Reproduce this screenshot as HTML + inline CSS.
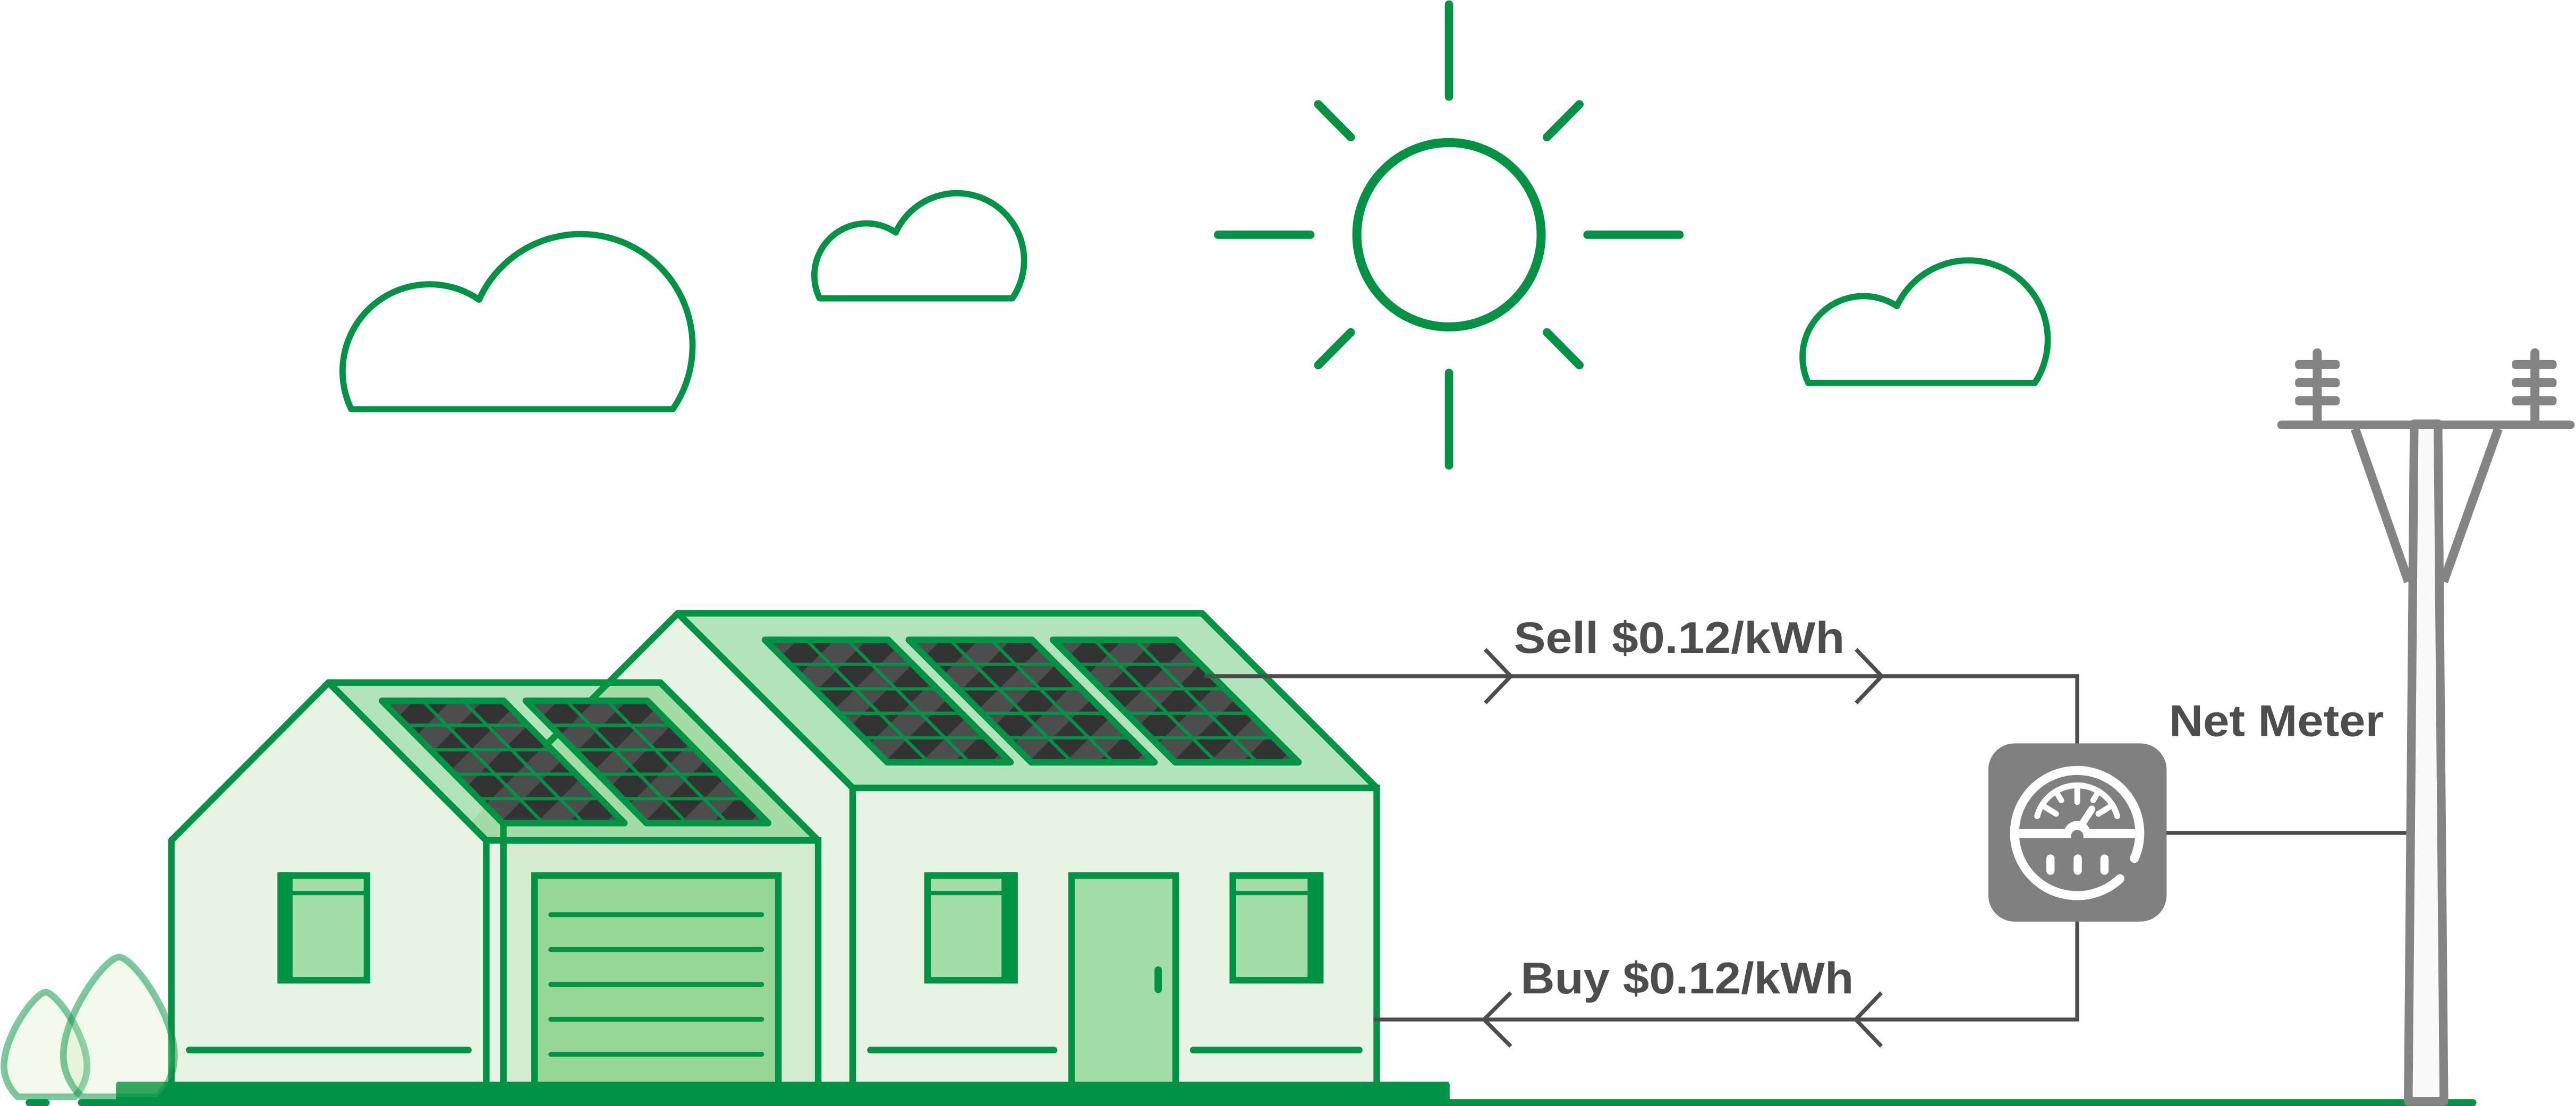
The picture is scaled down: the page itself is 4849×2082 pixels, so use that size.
<!DOCTYPE html>
<html>
<head>
<meta charset="utf-8">
<style>
html,body{margin:0;padding:0;background:#fff;width:4849px;height:2082px;overflow:hidden}
svg{display:block}
</style>
</head>
<body>
<svg width="4849" height="2082" viewBox="0 0 1568 673.25" xmlns="http://www.w3.org/2000/svg">
<defs>
  <pattern id="pp" patternUnits="userSpaceOnUse" width="30" height="30" patternTransform="rotate(45)">
    <rect width="30" height="30" fill="#333333"/>
    <rect width="14" height="30" fill="#4d4d4d"/>
  </pattern>
  <g id="pnl">
    <polygon points="0,0 75,0 149.5,74.5 74.5,74.5" fill="url(#pp)"/>
    <g stroke="#009245" stroke-width="2">
      <line x1="14.9" y1="14.9" x2="89.9" y2="14.9"/>
      <line x1="29.8" y1="29.8" x2="104.8" y2="29.8"/>
      <line x1="44.7" y1="44.7" x2="119.7" y2="44.7"/>
      <line x1="59.6" y1="59.6" x2="134.6" y2="59.6"/>
      <line x1="25" y1="0" x2="99.5" y2="74.5"/>
      <line x1="50" y1="0" x2="124.5" y2="74.5"/>
    </g>
    <polygon points="0,0 75,0 149.5,74.5 74.5,74.5" fill="none" stroke="#009245" stroke-width="4" stroke-linejoin="round"/>
  </g>
</defs>

<rect x="0" y="0" width="1568" height="673.25" fill="#ffffff"/>

<!-- Sun -->
<g stroke="#009245" stroke-width="5.1" stroke-linecap="round" fill="none">
  <circle cx="882" cy="142.9" r="56.1" stroke-width="5.5"/>
  <line x1="882" y1="2.8" x2="882" y2="58.8"/>
  <line x1="882" y1="227" x2="882" y2="283.3"/>
  <line x1="741.5" y1="142.9" x2="797.6" y2="142.9"/>
  <line x1="966.3" y1="142.9" x2="1022.3" y2="142.9"/>
  <line x1="802.4" y1="63.5" x2="822.2" y2="83.5"/>
  <line x1="961.4" y1="63.5" x2="941.6" y2="83.5"/>
  <line x1="822.2" y1="202.3" x2="802.4" y2="222.3"/>
  <line x1="941.6" y1="202.3" x2="961.4" y2="222.3"/>
</g>

<!-- Clouds -->
<g fill="none" stroke="#009245" stroke-width="3.8" stroke-linejoin="round">
  <path d="M213.8,249.1 A53,53 0 0 1 291.6,182.4 A68,68 0 1 1 409.5,249.1 Z"/>
  <path d="M498.9,181.6 A31.7,31.7 0 0 1 545.25,141.5 A40.9,40.9 0 1 1 616.2,181.6 Z"/>
  <path d="M1100.7,233.1 A37.1,37.1 0 0 1 1154.6,186.3 A48.2,48.2 0 1 1 1238.6,233.1 Z"/>
</g>

<!-- Big house gable (behind) -->
<polygon points="412.6,373.3 519,479.6 519,662 126,662" fill="#e7f4e3"/>
<line x1="412.6" y1="373.3" x2="326" y2="460" stroke="#009245" stroke-width="4" stroke-linecap="round"/>
<!-- Big house roof -->
<polygon points="412.6,373.3 731.6,373.3 838,479.6 519,479.6" fill="#b3e3ba" stroke="#009245" stroke-width="4" stroke-linejoin="round"/>
<!-- Big house front wall -->
<rect x="519" y="479.6" width="319" height="182" fill="#e7f4e3" stroke="#009245" stroke-width="4"/>

<!-- Big house panels -->
<use href="#pnl" transform="translate(465.6,389.5)"/>
<use href="#pnl" transform="translate(553.2,389.5)"/>
<use href="#pnl" transform="translate(640.9,389.5)"/>

<!-- Big house windows & door -->
<rect x="564.6" y="533" width="52.9" height="63.7" fill="#a2dca7" stroke="#009245" stroke-width="4"/>
<rect x="609.6" y="531" width="9.9" height="67.7" fill="#009245" rx="1"/>
<line x1="564.6" y1="543.6" x2="612" y2="543.6" stroke="#009245" stroke-width="2.6"/>

<rect x="750.4" y="533" width="53.2" height="63.7" fill="#a2dca7" stroke="#009245" stroke-width="4"/>
<rect x="795.9" y="531" width="9.7" height="67.7" fill="#009245" rx="1"/>
<line x1="750.4" y1="543.6" x2="798" y2="543.6" stroke="#009245" stroke-width="2.6"/>

<rect x="652.3" y="533" width="63.3" height="129" fill="#a2dca7" stroke="#009245" stroke-width="4"/>
<line x1="705" y1="590.5" x2="705" y2="602.3" stroke="#009245" stroke-width="4.5" stroke-linecap="round"/>

<g stroke="#009245" stroke-width="4" stroke-linecap="round">
  <line x1="529.8" y1="639.2" x2="641.6" y2="639.2"/>
  <line x1="726.3" y1="639.2" x2="827.4" y2="639.2"/>
</g>

<!-- Garage -->
<rect x="306.4" y="511.6" width="191.6" height="150" fill="#d3ecd0" stroke="#009245" stroke-width="4"/>
<line x1="306.4" y1="501" x2="306.4" y2="662" stroke="#009245" stroke-width="4"/>
<rect x="325.4" y="533" width="148.4" height="129" fill="#96d697" stroke="#009245" stroke-width="4"/>
<g stroke="#009245" stroke-width="3" stroke-linecap="round">
  <line x1="335.3" y1="556.8" x2="463.6" y2="556.8"/>
  <line x1="335.3" y1="578" x2="463.6" y2="578"/>
  <line x1="335.3" y1="599.3" x2="463.6" y2="599.3"/>
  <line x1="335.3" y1="620.5" x2="463.6" y2="620.5"/>
  <line x1="335.3" y1="641.8" x2="463.6" y2="641.8"/>
</g>

<!-- Left house -->
<polygon points="104.3,511.6 200,415.5 296,511.6 296,662 104.3,662" fill="#e7f4e3" stroke="#009245" stroke-width="4" stroke-linejoin="round"/>
<polygon points="200,415.5 401.9,415.5 498,511.6 296,511.6" fill="#02a219" fill-opacity="0.3" stroke="#009245" stroke-width="4" stroke-linejoin="round"/>

<!-- Left house panels -->
<use href="#pnl" transform="translate(232.5,426.6) scale(0.987,0.9987)"/>
<use href="#pnl" transform="translate(320,426.6) scale(0.987,0.9987)"/>

<!-- Left house window -->
<rect x="170.9" y="533" width="52.5" height="63.7" fill="#a2dca7" stroke="#009245" stroke-width="4"/>
<rect x="168.9" y="531" width="9.2" height="67.7" fill="#009245" rx="1"/>
<line x1="176" y1="543.6" x2="223.4" y2="543.6" stroke="#009245" stroke-width="2.6"/>
<line x1="115.2" y1="639.2" x2="285.1" y2="639.2" stroke="#009245" stroke-width="4" stroke-linecap="round"/>

<!-- Connectors -->
<g fill="none" stroke="#4d4d4d" stroke-width="2.4">
  <path d="M733,411.6 H1264.4 V455"/>
  <path d="M1264.4,558 V620.6 H836"/>
  <path d="M1316,507 H1467"/>
  <path d="M904,395.3 L919.6,411.6 L904,427.9"/>
  <path d="M1129.8,395.3 L1145.4,411.6 L1129.8,427.9"/>
  <path d="M919.6,604.3 L903.3,620.6 L919.6,636.9"/>
  <path d="M1145.2,604.3 L1129.6,620.6 L1145.2,636.9"/>
</g>

<!-- Labels -->
<g font-family="'Liberation Sans', Arial, sans-serif" font-weight="bold" font-size="27" fill="#4d4d4d">
  <text x="921.5" y="397.4" textLength="201.3" lengthAdjust="spacingAndGlyphs">Sell $0.12/kWh</text>
  <text x="925.6" y="604.7" textLength="202.7" lengthAdjust="spacingAndGlyphs">Buy $0.12/kWh</text>
  <text x="1320.3" y="448" textLength="130.7" lengthAdjust="spacingAndGlyphs">Net Meter</text>
</g>

<!-- Meter -->
<rect x="1210.3" y="452.5" width="108.5" height="108.5" rx="16" ry="16" fill="#808080"/>
<g fill="none" stroke="#ffffff" stroke-linecap="round">
  <path d="M1290.4,534.9 A38.1,38.1 0 1 1 1299.2,522.5" stroke-width="5.5"/>
  <path d="M1240.05,496.8 A25.2,25.2 0 0 1 1288.75,496.8" stroke-width="3.6"/>
  <g stroke-width="3.5">
    <line x1="1264.4" y1="479.8" x2="1264.4" y2="488.2"/>
    <line x1="1244.4" y1="491" x2="1251.5" y2="495.4"/>
    <line x1="1284.4" y1="491" x2="1277.3" y2="495.4"/>
    <line x1="1252.3" y1="483.2" x2="1254.7" y2="487.2"/>
    <line x1="1276.5" y1="483.2" x2="1274.1" y2="487.2"/>
  </g>
  <line x1="1266.5" y1="503" x2="1273.3" y2="492.5" stroke-width="4.3"/>
  <g stroke-width="5">
    <line x1="1248.1" y1="522.6" x2="1248.1" y2="530"/>
    <line x1="1264.7" y1="522.6" x2="1264.7" y2="530"/>
    <line x1="1281" y1="522.6" x2="1281" y2="530"/>
  </g>
</g>
<rect x="1229.1" y="504.7" width="70.6" height="5.4" fill="#ffffff"/>
<path d="M1256.1,508 A8.3,8.3 0 0 1 1272.7,508 Z" fill="#ffffff"/>
<circle cx="1264.4" cy="509" r="3.8" fill="#808080"/>

<!-- Ground -->
<rect x="70.6" y="658.5" width="811.8" height="17" rx="1.5" fill="#009245"/>
<g stroke="#009245" stroke-width="4.2" stroke-linecap="round">
  <line x1="49.5" y1="671.2" x2="1505.3" y2="671.2"/>
  <line x1="17.7" y1="671.2" x2="28.1" y2="671.2"/>
</g>

<!-- Utility pole -->
<g stroke="#848484" stroke-width="5.5" fill="none">
  <line x1="1433.5" y1="261" x2="1466" y2="354.1"/>
  <line x1="1520.7" y1="261" x2="1487.4" y2="354.1"/>
</g>
<polygon points="1469.5,258 1484,258 1487.6,670.4 1465.9,670.4" fill="#f9f9f9" stroke="#848484" stroke-width="5.3" stroke-linejoin="round"/>
<g stroke="#848484" stroke-linecap="round">
  <line x1="1410.5" y1="214.8" x2="1410.5" y2="258" stroke-width="5.5"/>
  <line x1="1543" y1="214.8" x2="1543" y2="258" stroke-width="5.5"/>
  <line x1="1388.8" y1="258.65" x2="1564.5" y2="258.65" stroke-width="5.3"/>
</g>
<g fill="#848484">
  <rect x="1397" y="219.15" width="27.2" height="5.5" rx="2.2"/>
  <rect x="1397" y="230.25" width="27.2" height="5.5" rx="2.2"/>
  <rect x="1397" y="241.25" width="27.2" height="5.5" rx="2.2"/>
  <rect x="1529" y="219.15" width="27.2" height="5.5" rx="2.2"/>
  <rect x="1529" y="230.25" width="27.2" height="5.5" rx="2.2"/>
  <rect x="1529" y="241.25" width="27.2" height="5.5" rx="2.2"/>
</g>

<!-- Trees -->
<g fill="#c8e6aa" fill-opacity="0.25" stroke="#009245" stroke-opacity="0.5" stroke-width="4.1" stroke-linejoin="round">
  <path d="M27.8,604 C34,604 53,630 53,649 C53,657 49.5,663.5 45.3,667.7 L10.8,667.7 C6.5,663.5 2.4,657 2.4,649 C2.4,630 21.6,604 27.8,604 Z"/>
  <path d="M72.5,582.6 C80.75,582.6 106.15,617.3 106.15,642.7 C106.15,653.4 101.45,662.1 95.85,667.7 L49.75,667.7 C44.05,662.1 38.55,653.4 38.55,642.7 C38.55,617.3 64.2,582.6 72.5,582.6 Z"/>
</g>
</svg>
</body>
</html>
